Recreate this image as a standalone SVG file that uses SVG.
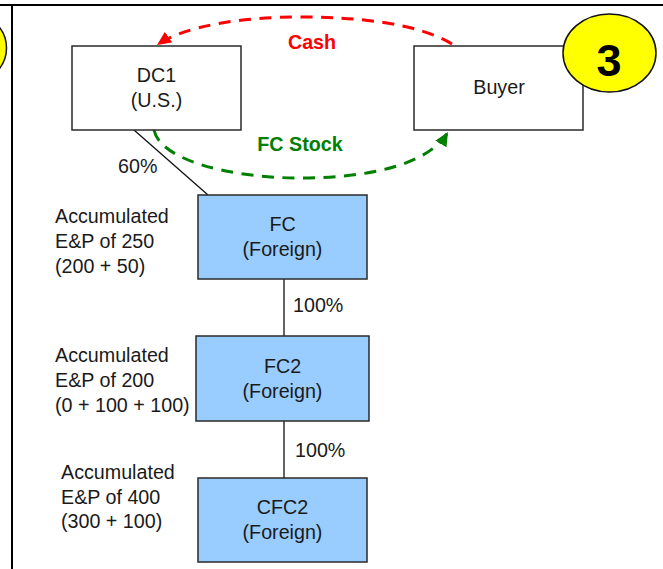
<svg xmlns="http://www.w3.org/2000/svg" width="663" height="569" viewBox="0 0 663 569">
<style>
text{font-family:"Liberation Sans",Arial,sans-serif;font-size:19.700px;fill:#1a1a1a}
.c{text-anchor:middle}
.box{stroke:#2a2a2a;stroke-width:1.500}
.w{fill:#fff}
.b{fill:#99ccff}
.line{stroke:#111;stroke-width:1.300;fill:none}
.frame{stroke:#000;stroke-width:2;fill:none}
.y{fill:#ffff00;stroke:#111;stroke-width:1.500}
</style>
<defs>
<marker id="ar" markerUnits="userSpaceOnUse" markerWidth="16" markerHeight="14" refX="14" refY="6.500" orient="auto"><path d="M0 0L14 6.500L0 13z" fill="#ff0000"/></marker>
<marker id="ag" markerUnits="userSpaceOnUse" markerWidth="16" markerHeight="14" refX="14" refY="6.500" orient="auto"><path d="M0 0L14 6.500L0 13z" fill="#008000"/></marker>
</defs>
<rect width="663" height="569" fill="#fff"/>
<g id="frame"><path class="frame" d="M0 5H663M12 5V569"/></g>
<g id="badge-left"><ellipse class="y" cx="-40.500" cy="48" rx="47" ry="39"/></g>
<g id="connectors">
<path class="line" d="M134 130L208 195M284 279V336M284 421V478"/>
<path d="M452 44C420 24 360 17 300 17C240 17 185 26 157 45" fill="none" stroke="#ff0000" stroke-width="3" stroke-dasharray="12 8.500" marker-end="url(#ar)"/>
<path d="M154 130C160 160 230 178 300 178C365 178 428 166 448 132" fill="none" stroke="#008000" stroke-width="3" stroke-dasharray="12 8.500" marker-end="url(#ag)"/>
</g>
<g id="dc1"><rect class="box w" x="72" y="46" width="169" height="84"/><text class="c" x="156.500" y="82">DC1</text><text class="c" x="156.500" y="107">(U.S.)</text></g>
<g id="buyer"><rect class="box w" x="414" y="46" width="169" height="84"/><text class="c" x="499" y="94">Buyer</text></g>
<g id="badge-3"><ellipse class="y" cx="609.500" cy="53" rx="46.500" ry="39"/><text class="c" x="609" y="76" style="font-size:45px;font-weight:bold;fill:#000">3</text></g>
<g id="fc"><rect class="box b" x="198" y="195" width="169" height="84"/><text class="c" x="282.500" y="231">FC</text><text class="c" x="282.500" y="256">(Foreign)</text></g>
<g id="fc2"><rect class="box b" x="196" y="336" width="173" height="85"/><text class="c" x="282.500" y="373">FC2</text><text class="c" x="282.500" y="398">(Foreign)</text></g>
<g id="cfc2"><rect class="box b" x="198" y="478" width="169" height="84"/><text class="c" x="282.500" y="514">CFC2</text><text class="c" x="282.500" y="539">(Foreign)</text></g>
<g id="labels">
<text x="118" y="173">60%</text>
<text x="293" y="312">100%</text>
<text x="295" y="457">100%</text>
<text x="55" y="223">Accumulated</text><text x="55" y="248">E&amp;P of 250</text><text x="55" y="273">(200 + 50)</text>
<text x="55" y="362">Accumulated</text><text x="55" y="387">E&amp;P of 200</text><text x="55" y="412">(0 + 100 + 100)</text>
<text x="61" y="479">Accumulated</text><text x="61" y="504">E&amp;P of 400</text><text x="61" y="528">(300 + 100)</text>
<text class="c" x="312" y="49" style="font-weight:bold;fill:#ff0000">Cash</text>
<text class="c" x="300" y="151" style="font-weight:bold;fill:#008000">FC Stock</text>
</g>
</svg>
